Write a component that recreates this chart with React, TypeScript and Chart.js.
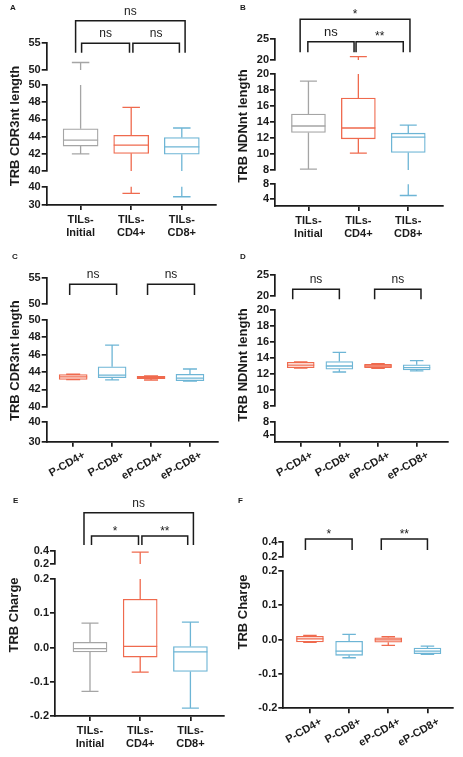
import React, { useEffect, useRef } from 'react'
import { Chart, registerables } from 'chart.js'

Chart.register(...registerables)

const GREY = '#a5a5a5'
const RED = '#ef6a4e'
const BLUE = '#6db5d5'
const INK = '#1b1b1b'
const FONT = "'Liberation Sans', Arial, Helvetica, sans-serif"

// groups on the x axis
const tilsLabels = [['TILs-', 'Initial'], ['TILs-', 'CD4+'], ['TILs-', 'CD8+']]
const pLabels = ['P-CD4+', 'P-CD8+', 'eP-CD4+', 'eP-CD8+']
const tilsColors = [GREY, RED, BLUE]
const pColors = [RED, BLUE, RED, BLUE]

// one row per group: [min, q1, median, q3, max]
const cdr3Tils = [
	[42.0, 42.9, 43.6, 44.9, 51.4],
	[36.4, 42.05, 43.0, 44.15, 47.4],
	[34.5, 41.95, 42.8, 43.9, 45.0],
]
const ndnTils = [
	[8.1, 12.7, 13.5, 15.0, 19.1],
	[10.1, 11.9, 13.25, 17.0, 20.8],
	[4.9, 10.2, 12.1, 12.6, 13.6],
]
const cdr3P = [
	[43.12, 43.15, 43.45, 43.7, 43.74],
	[43.1, 43.35, 43.65, 44.6, 47.1],
	[43.08, 43.23, 43.37, 43.5, 43.55],
	[42.95, 43.0, 43.3, 43.73, 44.35],
]
const ndnP = [
	[12.75, 12.8, 13.1, 13.45, 13.5],
	[12.25, 12.6, 13.0, 13.55, 14.7],
	[12.7, 12.8, 13.0, 13.2, 13.3],
	[12.4, 12.5, 12.8, 13.16, 13.66],
]
const chargeTils = [
	[-0.128, -0.013, -0.003, 0.015, 0.071],
	[-0.072, -0.028, 0.003, 0.141, 0.38],
	[-0.177, -0.07, -0.013, 0.003, 0.074],
]
const chargeP = [
	[-0.008, -0.007, 0.002, 0.009, 0.012],
	[-0.053, -0.046, -0.034, -0.005, 0.015],
	[-0.017, -0.008, -0.001, 0.005, 0.008],
	[-0.043, -0.041, -0.034, -0.025, -0.019],
]

// significance brackets: [from group, to group, label]
const sigCdr3Tils = [[0, 1, 'ns'], [1, 2, 'ns'], [0, 2, 'ns']]
const sigNdnTils = [[0, 1, 'ns'], [1, 2, '**'], [0, 2, '*']]
const sigChargeTils = [[0, 1, '*'], [1, 2, '**'], [0, 2, 'ns']]
const sigCdr3P = [[0, 1, 'ns'], [2, 3, 'ns']]
const sigNdnP = [[0, 1, 'ns'], [2, 3, 'ns']]
const sigChargeP = [[0, 1, '*'], [2, 3, '**']]

// broken y axes, pieces from top to bottom: [min, max] and their ticks
const cdr3Segments = [[50, 55], [40, 50], [30, 40]]
const cdr3Ticks = [[50, 55], [40, 42, 44, 46, 48, 50], [30, 40]]
const ndnSegments = [[20, 25], [8, 20], [2, 8]]
const ndnTicks = [[20, 25], [8, 10, 12, 14, 16, 18, 20], [4, 8]]
const chargeSegments = [[0.2, 0.4], [-0.2, 0.2]]
const chargeTicks = [[0.2, 0.4], [-0.2, -0.1, 0, 0.1, 0.2]]

interface Panel {
	letter: string
	title: string
	labels: (string | string[])[]
	boxes: number[][]
	colors: string[]
	sig: (number | string)[][]
	segments: number[][]
	ticks: number[][]
	decimals: number
	// layout
	left: number
	top: number
	width: number
	height: number
	pad: { left: number; top: number; right: number; bottom: number }
	segPx: number[]
	gapPx: number[]
	xMin: number
	xMax: number
	xHeight: number
	rotate: number
	labelOffset: number
	boxW: number
	titleAt: number[]
	letterAt: number[]
	legBottom: number
	levels: number[]
	sigDx: number[][]
	sigFont: number
}

const Y_WIDTH = 32

const panels: Panel[] = [
	{
		letter: 'A', title: 'TRB CDR3nt length', labels: tilsLabels, boxes: cdr3Tils, colors: tilsColors,
		sig: sigCdr3Tils, segments: cdr3Segments, ticks: cdr3Ticks, decimals: 0,
		left: 0, top: 0, width: 231, height: 245,
		pad: { left: 14.7, top: 43.3, right: 15.3, bottom: 4 },
		segPx: [26.7, 86, 18.3], gapPx: [15, 15.7],
		xMin: -0.67, xMax: 2.67, xHeight: 36, rotate: 0, labelOffset: 0, boxW: 35,
		titleAt: [15, 126], letterAt: [10, 9.5],
		legBottom: 9.4, levels: [0, -22.6], sigDx: [[1, -1.7], [1.7, -2.4], [-5, 3.3]], sigFont: 12,
	},
	{
		letter: 'B', title: 'TRB NDNnt length', labels: tilsLabels, boxes: ndnTils, colors: tilsColors,
		sig: sigNdnTils, segments: ndnSegments, ticks: ndnTicks, decimals: 0,
		left: 231, top: 0, width: 232, height: 245,
		pad: { left: 12, top: 39.3, right: 20.3, bottom: 3 },
		segPx: [20.7, 96, 21.7], gapPx: [14, 14.3],
		xMin: -0.67, xMax: 2.69, xHeight: 36, rotate: 0, labelOffset: 0, boxW: 34,
		titleAt: [12.3, 126], letterAt: [9, 9.5],
		legBottom: 13, levels: [2.4, -20], sigDx: [[-0.6, -4.3], [-2.3, -5], [-8.3, 1.7]], sigFont: 13,
	},
	{
		letter: 'C', title: 'TRB CDR3nt length', labels: pLabels, boxes: cdr3P, colors: pColors,
		sig: sigCdr3P, segments: cdr3Segments, ticks: cdr3Ticks, decimals: 0,
		left: 0, top: 245, width: 231, height: 245,
		pad: { left: 14.7, top: 33.3, right: 13, bottom: 6.3 },
		segPx: [26, 86.7, 20], gapPx: [15.7, 15],
		xMin: -0.68, xMax: 3.72, xHeight: 42, rotate: 30, labelOffset: 11, boxW: 28,
		titleAt: [15, 115.7], letterAt: [12, 13.5],
		legBottom: 16.7, levels: [6], sigDx: [[-3.5, 4.5], [-3.5, 4.5]], sigFont: 12,
	},
	{
		letter: 'D', title: 'TRB NDNnt length', labels: pLabels, boxes: ndnP, colors: pColors,
		sig: sigNdnP, segments: ndnSegments, ticks: ndnTicks, decimals: 0,
		left: 231, top: 245, width: 232, height: 245,
		pad: { left: 12, top: 30, right: 15, bottom: 6.3 },
		segPx: [20.7, 96, 19.7], gapPx: [14.3, 16],
		xMin: -0.665, xMax: 3.81, xHeight: 42, rotate: 30, labelOffset: 11, boxW: 27,
		titleAt: [12.3, 120], letterAt: [9, 13.5],
		legBottom: 24.3, levels: [14.3], sigDx: [[-8, 0], [-3.4, 4.3]], sigFont: 12,
	},
	{
		letter: 'E', title: 'TRB Charge', labels: tilsLabels, boxes: chargeTils, colors: tilsColors,
		sig: sigChargeTils, segments: chargeSegments, ticks: chargeTicks, decimals: 1,
		left: 0, top: 490, width: 231, height: 267,
		pad: { left: 23, top: 60.7, right: 6.7, bottom: 5 },
		segPx: [13.3, 137], gapPx: [15],
		xMin: -0.697, xMax: 2.675, xHeight: 36, rotate: 0, labelOffset: 0, boxW: 34,
		titleAt: [14, 125], letterAt: [13, 12.5],
		legBottom: -5.7, levels: [-14.7, -38], sigDx: [[1.5, -1.7], [1.7, -2.7], [-6, 3]], sigFont: 12,
	},
	{
		letter: 'F', title: 'TRB Charge', labels: pLabels, boxes: chargeP, colors: pColors,
		sig: sigChargeP, segments: chargeSegments, ticks: chargeTicks, decimals: 1,
		left: 231, top: 490, width: 232, height: 267,
		pad: { left: 20.3, top: 51.7, right: 9.7, bottom: 6.7 },
		segPx: [15, 137.6], gapPx: [14],
		xMin: -0.68, xMax: 3.66, xHeight: 42, rotate: 30, labelOffset: 11, boxW: 27,
		titleAt: [12.3, 122], letterAt: [7, 13],
		legBottom: 8.3, levels: [-2.7], sigDx: [[-4.5, 3], [-7, 0]], sigFont: 12,
	},
]

const tickFont = { family: FONT, size: 11, weight: 'bold' as const }

// whiskers, caps, medians, brackets, axis title and panel letter
function makeExtras(p: Panel) {
	return {
		id: 'extras' + p.letter,
		afterDatasetsDraw(chart: any) {
			const { ctx, scales } = chart
			const xs = scales.x
			ctx.save()
			ctx.lineWidth = 1.3
			p.boxes.forEach((b, i) => {
				const cx = xs.getPixelForValue(i)
				const half = p.boxW / 2
				const cap = p.boxW * 0.25
				ctx.strokeStyle = p.colors[i]
				ctx.beginPath()
				p.segments.forEach(([lo, hi], k) => {
					const s = scales['y' + k]
					const py = (v: number) => s.getPixelForValue(v)
					const inside = (v: number) => v >= lo && v <= hi
					// whisker parts that fall on this piece of the axis
					const whisker = (a: number, c: number) => {
						const from = Math.max(Math.min(a, c), lo)
						const to = Math.min(Math.max(a, c), hi)
						if (from >= to) return
						ctx.moveTo(cx, py(from))
						ctx.lineTo(cx, py(to))
					}
					whisker(b[3], b[4])
					whisker(b[0], b[1])
					const hLine = (v: number, w: number) => {
						if (!inside(v)) return
						ctx.moveTo(cx - w, py(v))
						ctx.lineTo(cx + w, py(v))
					}
					hLine(b[4], cap)
					hLine(b[0], cap)
					hLine(b[2], half)
				})
				ctx.stroke()
			})
			ctx.restore()
		},
		afterDraw(chart: any) {
			const { ctx, chartArea: area, scales } = chart
			const xs = scales.x
			ctx.save()
			ctx.strokeStyle = INK
			ctx.fillStyle = INK
			ctx.lineWidth = 1.5
			ctx.lineJoin = 'miter'
			ctx.textAlign = 'center'
			ctx.textBaseline = 'alphabetic'
			p.sig.forEach((row, k) => {
				const a = row[0] as number
				const b = row[1] as number
				const label = row[2] as string
				const level = b - a > 1 ? 1 : 0
				const x1 = xs.getPixelForValue(a) + p.sigDx[k][0]
				const x2 = xs.getPixelForValue(b) + p.sigDx[k][1]
				const yLine = area.top + p.levels[level]
				const yLeg = area.top + p.legBottom
				ctx.beginPath()
				ctx.moveTo(x1, yLeg)
				ctx.lineTo(x1, yLine)
				ctx.lineTo(x2, yLine)
				ctx.lineTo(x2, yLeg)
				ctx.stroke()
				const isNs = label === 'ns'
				ctx.font = `${isNs && level === 0 ? p.sigFont : 12}px ${FONT}`
				ctx.fillText(label, (x1 + x2) / 2, yLine + (isNs ? -6 : -1.5))
			})

			ctx.save()
			ctx.translate(p.titleAt[0], p.titleAt[1])
			ctx.rotate(-Math.PI / 2)
			ctx.font = `bold 13px ${FONT}`
			ctx.textBaseline = 'middle'
			ctx.fillText(p.title, 0, 0)
			ctx.restore()

			ctx.font = `bold 8px ${FONT}`
			ctx.textAlign = 'left'
			ctx.fillText(p.letter, p.letterAt[0], p.letterAt[1])
			ctx.restore()
		},
	}
}

function buildScales(p: Panel) {
	const axisGrid = {
		display: true,
		drawOnChartArea: false,
		drawTicks: true,
		tickLength: 5,
		color: INK,
		lineWidth: 1.7,
		offset: false,
	}
	const axisBorder = { display: true, color: INK, width: 1.7 }
	const scales: any = {
		x: {
			type: 'linear',
			position: 'bottom',
			min: p.xMin,
			max: p.xMax,
			bounds: 'data',
			offset: false,
			afterBuildTicks: (s: any) => {
				s.ticks = p.labels.map((_, i) => ({ value: i }))
			},
			afterFit: (s: any) => {
				s.height = p.xHeight
			},
			grid: axisGrid,
			border: axisBorder,
			ticks: {
				autoSkip: false,
				minRotation: p.rotate,
				maxRotation: p.rotate,
				padding: p.rotate ? 2 : 3,
				labelOffset: p.labelOffset,
				color: INK,
				font: tickFont,
				callback: (v: number) => p.labels[v],
			},
		},
	}
	const n = p.segments.length
	p.segments.forEach((seg, k) => {
		scales['y' + k] = {
			type: 'linear',
			axis: 'y',
			position: 'left',
			stack: 'broken',
			stackWeight: p.segPx[k],
			weight: 100 - 2 * k,
			min: seg[0],
			max: seg[1],
			bounds: 'data',
			beginAtZero: false,
			afterBuildTicks: (s: any) => {
				s.ticks = p.ticks[k].map((v) => ({ value: v }))
			},
			afterFit: (s: any) => {
				s.width = Y_WIDTH
			},
			grid: axisGrid,
			border: axisBorder,
			ticks: {
				autoSkip: false,
				padding: 1,
				color: INK,
				font: tickFont,
				callback: (v: number) => v.toFixed(p.decimals),
			},
		}
		if (k < n - 1) {
			scales['gap' + k] = {
				type: 'linear',
				axis: 'y',
				position: 'left',
				stack: 'broken',
				stackWeight: p.gapPx[k],
				weight: 99 - 2 * k,
				display: false,
				min: 0,
				max: 1,
			}
		}
	})
	return scales
}

const BoxPanel: React.FC<{ p: Panel }> = ({ p }) => {
	const chartRef = useRef<HTMLCanvasElement>(null)

	useEffect(() => {
		if (!chartRef.current) return
		const chart = new Chart(chartRef.current, {
			type: 'bar',
			data: {
				datasets: [
					{
						data: p.boxes.map((b, i) => ({ x: i, y: [b[1], b[3]] })) as any,
						yAxisID: 'y1',
						xAxisID: 'x',
						backgroundColor: '#ffffff',
						borderColor: p.colors,
						borderWidth: 1.3,
						borderSkipped: false,
						barThickness: p.boxW,
					},
				],
			},
			options: {
				responsive: true,
				maintainAspectRatio: false,
				animation: false,
				events: [],
				layout: { padding: p.pad },
				plugins: {
					legend: { display: false },
					tooltip: { enabled: false },
					title: { display: false },
				},
				scales: buildScales(p),
			},
			plugins: [makeExtras(p)],
		})
		return () => {
			chart.destroy()
		}
	}, [p])

	return (
		<div
			style={{
				position: 'absolute',
				left: p.left,
				top: p.top,
				width: p.width,
				height: p.height,
			}}
		>
			<canvas ref={chartRef} />
		</div>
	)
}

export default function App() {
	return (
		<div
			style={{
				position: 'absolute',
				left: 0,
				top: 0,
				width: 463,
				height: 757,
				background: '#ffffff',
			}}
		>
			{panels.map((p) => (
				<BoxPanel key={p.letter} p={p} />
			))}
		</div>
	)
}
